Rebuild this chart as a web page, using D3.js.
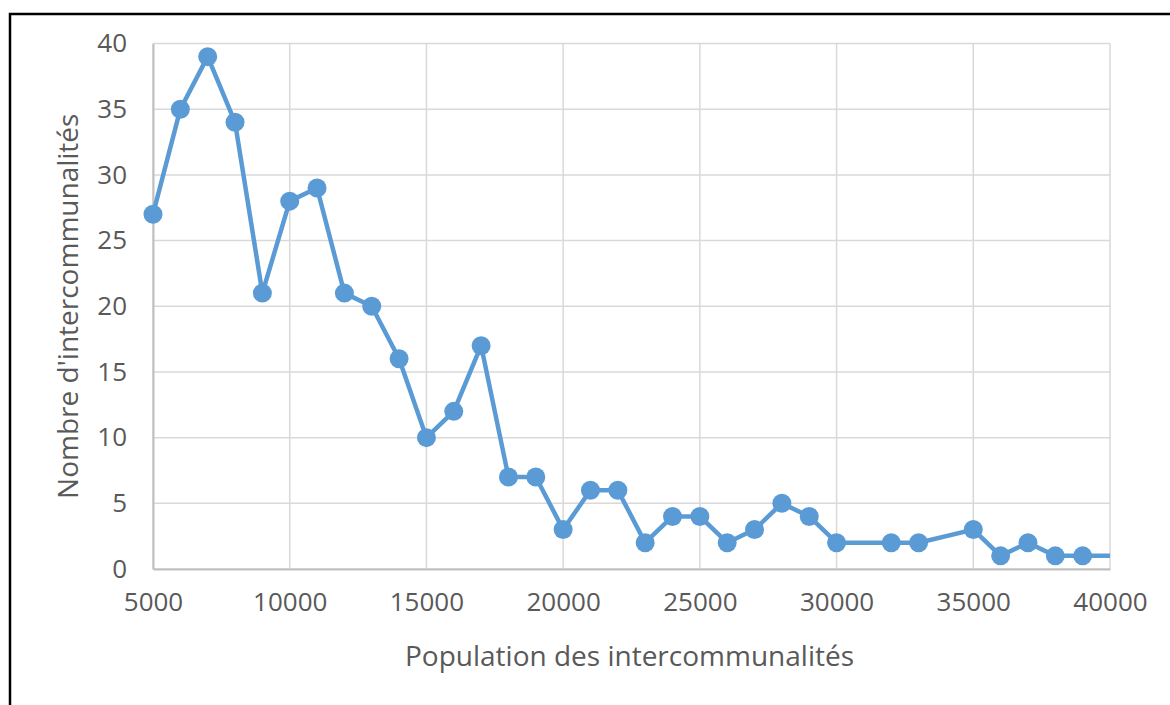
<!DOCTYPE html>
<html lang="fr">
<head>
<meta charset="utf-8">
<title>Nombre d'intercommunalités</title>
<script src="https://cdn.jsdelivr.net/npm/d3@7"></script>
<style>
  body { margin: 0; background: #fff; }
  .tick text { font-family: "Open Sans", sans-serif; fill: #595959; }
</style>
</head>
<body>
<div id="chart"></div>
<script>
// population (x) and number of intercommunalités (y)
var population = [5000, 6000, 7000, 8000, 9000, 10000, 11000, 12000, 13000, 14000, 15000,
  16000, 17000, 18000, 19000, 20000, 21000, 22000, 23000, 24000, 25000, 26000, 27000,
  28000, 29000, 30000, 32000, 33000, 35000, 36000, 37000, 38000, 39000, 41000];
var nombre = [27, 35, 39, 34, 21, 28, 29, 21, 20, 16, 10,
  12, 17, 7, 7, 3, 6, 6, 2, 4, 4, 2, 3,
  5, 4, 2, 2, 2, 3, 1, 2, 1, 1, 1];
var xTicks = [5000, 10000, 15000, 20000, 25000, 30000, 35000, 40000];
var yTicks = [0, 5, 10, 15, 20, 25, 30, 35, 40];

var data = population.map(function(p, i) { return {x: p, y: nombre[i]}; });

var W = 1170, H = 705;
var margin = {top: 43.5, right: 60, bottom: 136, left: 153};
var width = W - margin.left - margin.right,
    height = H - margin.top - margin.bottom;

var svg = d3.select("#chart").append("svg")
    .attr("width", W).attr("height", H);

// frame of the chart (runs off the right and bottom edges)
svg.append("rect")
    .attr("x", 10).attr("y", 14)
    .attr("width", W + 20).attr("height", H + 20)
    .attr("fill", "none").attr("stroke", "#000").attr("stroke-width", 2.5);

var g = svg.append("g")
    .attr("transform", "translate(" + margin.left + "," + margin.top + ")");

var x = d3.scaleLinear().domain([5000, 40000]).range([0, width]);
var y = d3.scaleLinear().domain([0, 40]).range([height, 0]);

// grid
g.selectAll(".vgrid").data(xTicks).enter().append("line")
    .attr("x1", function(d) { return x(d); }).attr("x2", function(d) { return x(d); })
    .attr("y1", 0).attr("y2", height)
    .attr("stroke", "#d9d9d9").attr("stroke-width", 1.5);
g.selectAll(".hgrid").data(yTicks).enter().append("line")
    .attr("x1", 0).attr("x2", width)
    .attr("y1", function(d) { return y(d); }).attr("y2", function(d) { return y(d); })
    .attr("stroke", "#d9d9d9").attr("stroke-width", 1.5);

// axes
var xAxis = g.append("g")
    .attr("transform", "translate(0," + height + ")")
    .call(d3.axisBottom(x).tickValues(xTicks).tickSize(0).tickPadding(24).tickFormat(d3.format("d")));
xAxis.select(".domain").attr("stroke", "#bfbfbf").attr("stroke-width", 2);
xAxis.selectAll("text").style("font-size", "26px");

var yAxis = g.append("g")
    .call(d3.axisLeft(y).tickValues(yTicks).tickSize(0).tickPadding(26));
yAxis.select(".domain").attr("stroke", "#bfbfbf").attr("stroke-width", 2);
yAxis.selectAll("text").style("font-size", "26px");

// series
svg.append("clipPath").attr("id", "clip")
  .append("rect").attr("x", 0).attr("y", -20).attr("width", width).attr("height", height + 40);

g.append("path")
    .datum(data)
    .attr("clip-path", "url(#clip)")
    .attr("d", d3.line().x(function(d) { return x(d.x); }).y(function(d) { return y(d.y); }))
    .attr("fill", "none")
    .attr("stroke", "#5b9bd5")
    .attr("stroke-width", 4.5)
    .attr("stroke-linejoin", "round");

g.selectAll("circle")
    .data(data.filter(function(d) { return d.x <= 39000; }))
    .enter().append("circle")
    .attr("cx", function(d) { return x(d.x); })
    .attr("cy", function(d) { return y(d.y); })
    .attr("r", 9.5)
    .attr("fill", "#5b9bd5");

// axis titles
svg.append("text")
    .attr("x", margin.left + width / 2 - 2).attr("y", 666)
    .attr("text-anchor", "middle")
    .style("font-family", "'Open Sans', sans-serif").style("font-size", "28px")
    .attr("fill", "#595959")
    .text("Population des intercommunalités");

svg.append("text")
    .attr("transform", "translate(78," + (margin.top + height / 2) + ") rotate(-90)")
    .attr("text-anchor", "middle")
    .style("font-family", "'Open Sans', sans-serif").style("font-size", "28px")
    .attr("fill", "#595959")
    .text("Nombre d'intercommunalités");
</script>
</body>
</html>
